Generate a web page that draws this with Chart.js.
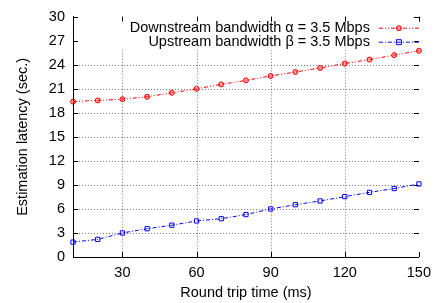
<!DOCTYPE html>
<html>
<head>
<meta charset="utf-8">
<script src="https://cdn.jsdelivr.net/npm/chart.js@4"></script>
<style>
  html, body { margin: 0; padding: 0; background: #fff; }
  #wrap { width: 438px; height: 303px; }
</style>
</head>
<body>
<div id="wrap"><canvas id="rtt-chart" width="438" height="303"></canvas></div>
<script>
const rtt = [10, 20, 30, 40, 50, 60, 70, 80, 90, 100, 110, 120, 130, 140, 150];
const downstream = [19.4, 19.55, 19.7, 20.0, 20.5, 21.0, 21.55, 22.05, 22.6, 23.1, 23.6, 24.15, 24.65, 25.2, 25.75];
const upstream = [1.86, 2.2, 3.0, 3.53, 3.97, 4.5, 4.78, 5.3, 6.0, 6.53, 7.0, 7.54, 8.07, 8.55, 9.12];
const xTicks = [30, 60, 90, 120, 150];
const yTicks = [0, 3, 6, 9, 12, 15, 18, 21, 24, 27, 30];
const labelDown = 'Downstream bandwidth \u03b1 = 3.5 Mbps';
const labelUp = 'Upstream bandwidth \u03b2 = 3.5 Mbps';

const FONT = '"Liberation Sans", Arial, sans-serif';
const FSIZE = 14.5;

// gnuplot-ish frame: dotted grid, legend box, inward ticks
const gnuFrame = {
  id: 'gnuFrame',
  beforeDatasetsDraw(chart) {
    const c = chart.ctx, a = chart.chartArea;
    const xs = chart.scales.x, ys = chart.scales.y;
    c.save();
    c.strokeStyle = '#777';
    c.lineWidth = 1;
    c.setLineDash([1, 2]);
    xTicks.slice(0, -1).forEach(v => {
      const px = Math.round(xs.getPixelForValue(v)) + 0.5;
      c.beginPath(); c.moveTo(px, a.top); c.lineTo(px, a.bottom); c.stroke();
    });
    yTicks.slice(1, -1).forEach(v => {
      const py = Math.round(ys.getPixelForValue(v)) + 0.5;
      c.beginPath(); c.moveTo(a.left, py); c.lineTo(a.right, py); c.stroke();
    });
    c.setLineDash([]);
    // legend box background
    c.fillStyle = '#fff';
    c.fillRect(a.left + 4, a.top + 1, a.right - a.left - 8, 32);
    // inward ticks
    c.strokeStyle = '#000';
    yTicks.forEach(v => {
      const py = Math.round(ys.getPixelForValue(v)) + 0.5;
      c.beginPath(); c.moveTo(a.left, py); c.lineTo(a.left + 5, py); c.stroke();
      c.beginPath(); c.moveTo(a.right, py); c.lineTo(a.right - 5, py); c.stroke();
    });
    xTicks.forEach(v => {
      const px = Math.round(xs.getPixelForValue(v)) + 0.5;
      c.beginPath(); c.moveTo(px, a.bottom); c.lineTo(px, a.bottom - 5); c.stroke();
      c.beginPath(); c.moveTo(px, a.top); c.lineTo(px, a.top + 5); c.stroke();
    });
    c.restore();
  },
  afterDatasetsDraw(chart) {
    const c = chart.ctx, a = chart.chartArea;
    const rows = [
      { text: labelDown, color: '#ff0000', dash: [4, 2, 1, 2, 1, 2], y: a.top + 11, mark: 'circle' },
      { text: labelUp, color: '#0000ff', dash: [4, 2, 1, 2], y: a.top + 25, mark: 'square' }
    ];
    c.save();
    c.font = FSIZE + 'px ' + FONT;
    c.textAlign = 'right';
    c.textBaseline = 'middle';
    rows.forEach(r => {
      c.fillStyle = '#000';
      c.fillText(r.text, a.right - 49, r.y);
      const y = r.y + 0.5;
      c.strokeStyle = r.color;
      c.lineWidth = 1;
      c.setLineDash(r.dash);
      c.beginPath(); c.moveTo(a.right - 40, y); c.lineTo(a.right, y); c.stroke();
      c.setLineDash([]);
      const mx = a.right - 20;
      c.beginPath();
      if (r.mark === 'circle') {
        c.fillStyle = 'rgba(255,0,0,0.35)';
        c.arc(mx, y, 2.5, 0, Math.PI * 2);
        c.fill();
      } else {
        c.rect(mx - 2.5, y - 2.5, 5, 5);
      }
      c.stroke();
    });
    c.restore();
  }
};

const ctx = document.getElementById('rtt-chart').getContext('2d');
const rttChart = new Chart(ctx, {
  type: 'line',
  data: {
    datasets: [{
      label: labelDown,
      data: rtt.map((x, i) => ({ x: x, y: downstream[i] })),
      borderColor: '#ff0000',
      backgroundColor: 'rgba(255,0,0,0.35)',
      borderWidth: 1,
      borderDash: [4, 2, 1, 2, 1, 2],
      pointStyle: 'circle',
      pointRadius: 2.5,
      pointBorderWidth: 1,
      tension: 0,
      clip: false
    }, {
      label: labelUp,
      data: rtt.map((x, i) => ({ x: x, y: upstream[i] })),
      borderColor: '#0000ff',
      backgroundColor: 'rgba(0,0,0,0)',
      borderWidth: 1,
      borderDash: [4, 2, 1, 2],
      pointStyle: 'rect',
      pointRadius: 3,
      pointBorderWidth: 1,
      tension: 0,
      clip: false
    }]
  },
  options: {
    responsive: false,
    animation: false,
    layout: { padding: { top: 10, right: 16, left: 0, bottom: 0 } },
    plugins: { legend: { display: false }, tooltip: { enabled: false } },
    scales: {
      x: {
        type: 'linear',
        min: 10, max: 150,
        afterBuildTicks(s) { s.ticks = xTicks.map(v => ({ value: v })); },
        afterFit(s) { s.height = 46; },
        grid: { display: false, drawTicks: false },
        border: { display: true, color: '#000', width: 1 },
        ticks: { color: '#000', font: { family: FONT, size: FSIZE }, padding: 7, maxRotation: 0 },
        title: { display: true, text: 'Round trip time (ms)', color: '#000', font: { family: FONT, size: FSIZE }, padding: { top: 0, bottom: 1 } }
      },
      y: {
        min: 0, max: 30,
        afterBuildTicks(s) { s.ticks = yTicks.map(v => ({ value: v })); },
        afterFit(s) { s.width = 73; },
        grid: { display: false, drawTicks: false },
        border: { display: true, color: '#000', width: 1 },
        ticks: { color: '#000', font: { family: FONT, size: FSIZE }, padding: 8 },
        title: { display: true, text: 'Estimation latency (sec.)', color: '#000', font: { family: FONT, size: FSIZE }, padding: { top: 14, bottom: 4 } }
      }
    }
  },
  plugins: [gnuFrame]
});
</script>
</body>
</html>
